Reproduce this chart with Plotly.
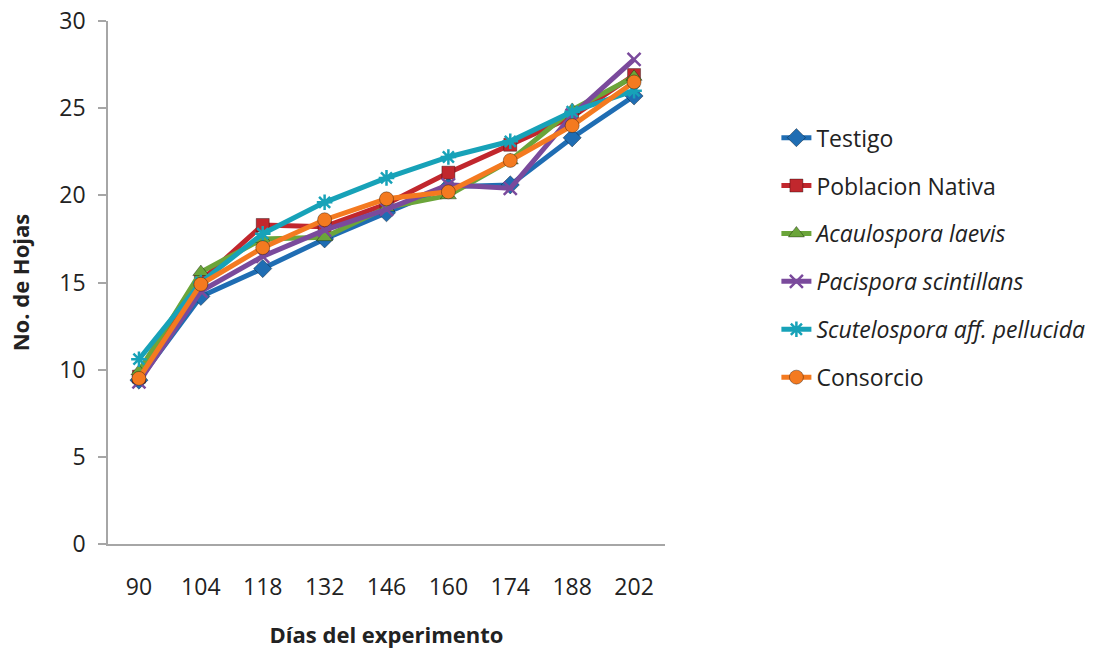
import plotly.graph_objects as go

# Days of the experiment (categorical x axis)
dias = ["90", "104", "118", "132", "146", "160", "174", "188", "202"]

# Number of leaves per treatment
testigo = [9.4, 14.2, 15.8, 17.5, 19.0, 20.5, 20.6, 23.3, 25.7]
poblacion_nativa = [9.6, 15.1, 18.3, 18.2, 19.5, 21.3, 22.9, 24.5, 26.9]
acaulospora = [9.9, 15.6, 17.5, 17.6, 19.3, 20.0, 22.0, 24.9, 26.8]
pacispora = [9.3, 14.5, 16.5, 18.0, 19.2, 20.6, 20.4, 24.6, 27.8]
scutelospora = [10.6, 15.0, 17.8, 19.6, 21.0, 22.2, 23.1, 24.8, 26.0]
consorcio = [9.5, 14.9, 17.0, 18.6, 19.8, 20.2, 22.0, 24.0, 26.5]

series = [
    ("Testigo", testigo, "#1F6DB3", "diamond", 14),
    ("Poblacion Nativa", poblacion_nativa, "#C1272D", "square", 13),
    ("<i>Acaulospora laevis</i>", acaulospora, "#6BA53A", "triangle-up", 14),
    ("<i>Pacispora scintillans</i>", pacispora, "#7A4A9C", "x-thin", 13),
    ("<i>Scutelospora aff. pellucida</i>", scutelospora, "#17A2B8", "asterisk", 13),
    ("Consorcio", consorcio, "#F47A20", "circle", 14),
]

fig = go.Figure()
for i, (name, vals, color, symbol, size) in enumerate(series):
    thin = symbol in ("x-thin", "asterisk")
    fig.add_trace(go.Scatter(
        x=dias, y=vals, name=name, mode="lines+markers",
        legendgroup=str(i),
        line=dict(color=color, width=5),
        marker=dict(
            symbol=symbol, size=size, color=color,
            line=dict(color=color if thin else "rgba(0,0,0,0.35)",
                      width=2.5 if thin else 1),
        ),
    ))

fig.update_layout(
    width=1110, height=649,
    paper_bgcolor="white", plot_bgcolor="white",
    margin=dict(l=108, r=445, t=21, b=105),
    font=dict(family="Open Sans, sans-serif", size=20, color="#222222"),
    legend=dict(
        x=1.20, y=0.818, xanchor="left", yanchor="top",
        font=dict(size=23, color="#222222"),
        traceorder="grouped", tracegroupgap=15,
        bgcolor="rgba(0,0,0,0)",
    ),
    xaxis=dict(
        type="category", range=[-0.5, len(dias) - 0.5],
        showline=True, linecolor="#A6A6A6", linewidth=1.5,
        showgrid=False, ticks="", ticklabelstandoff=22, automargin=False,
        tickfont=dict(size=23),
        title=dict(text="<b>Días del experimento</b>", font=dict(size=22), standoff=32),
    ),
    yaxis=dict(
        range=[0, 30], dtick=5, showline=True, linecolor="#A6A6A6", linewidth=1.5,
        showgrid=False, ticks="outside", ticklen=8, tickcolor="#A6A6A6",
        tickwidth=1.5, ticklabelstandoff=8, tickfont=dict(size=23),
        zeroline=False, automargin=False,
        title=dict(text="<b>No. de Hojas</b>", font=dict(size=22), standoff=24),
    ),
)

fig.write_html("out.html")
